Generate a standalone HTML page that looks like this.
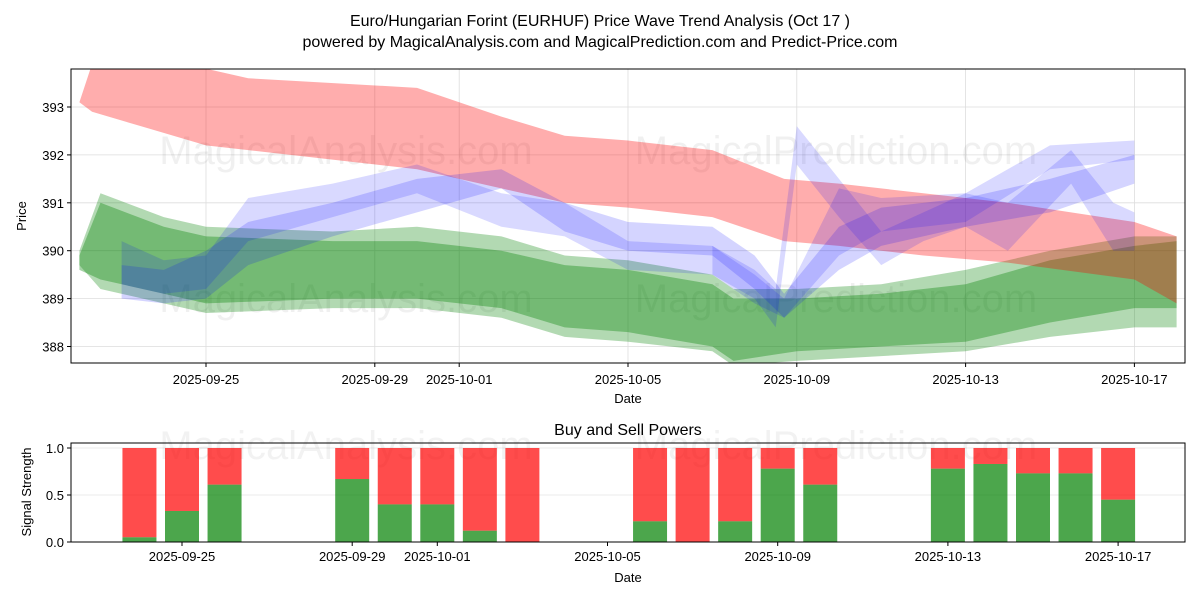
<!DOCTYPE html>
<html><head><meta charset="utf-8"><style>
body{margin:0;background:#fff;}
svg text{font-family:"Liberation Sans","DejaVu Sans",sans-serif;}
</style></head><body>
<svg id="chart" width="1200" height="600" xmlns="http://www.w3.org/2000/svg">
<rect x="0" y="0" width="1200" height="600" fill="#fff"/>
<text x="600" y="26" text-anchor="middle" font-size="16">Euro/Hungarian Forint (EURHUF) Price Wave Trend Analysis (Oct 17 )</text>
<text x="600" y="47" text-anchor="middle" font-size="16">powered by MagicalAnalysis.com and MagicalPrediction.com and Predict-Price.com</text>
<g id="topPanel"></g>
<g id="botPanel"></g>
</svg>
<script>
// ---- data ----
const tickDates = ["2025-09-25","2025-09-29","2025-10-01","2025-10-05","2025-10-09","2025-10-13","2025-10-17"];
const tickDays = [0,4,6,10,14,18,22];
const priceTicks = [388,389,390,391,392,393];
const redDays = [-3,-2.7,0,1,5,6,7,8.5,10,12,13.7,15,17,19,22,23];
const redUpper = [393.1,393.9,393.8,393.6,393.4,393.1,392.8,392.4,392.3,392.1,391.5,391.4,391.2,391.0,390.6,390.3];
const redLower = [393.1,392.9,392.2,392.1,391.7,391.5,391.3,391.0,390.9,390.7,390.2,390.1,389.9,389.75,389.4,388.9];
const greenDays = [-3,-2.5,-1,0,3,5,7,8.5,10,12,12.5,14,16,18,20,22,23];
const greenUpperA = [389.9,391.0,390.5,390.3,390.2,390.2,390.0,389.7,389.6,389.3,389.0,389.0,389.1,389.3,389.8,390.1,390.2];
const greenLowerA = [389.6,389.4,389.1,388.9,389.0,389.0,388.8,388.4,388.3,388.0,387.7,387.9,388.0,388.1,388.5,388.8,388.8];
const greenUpperB = [390.0,391.2,390.7,390.5,390.4,390.5,390.3,389.9,389.8,389.5,389.2,389.2,389.3,389.6,390.0,390.3,390.3];
const greenLowerB = [389.7,389.2,388.9,388.7,388.8,388.8,388.6,388.2,388.1,387.9,387.6,387.7,387.8,387.9,388.2,388.4,388.4];
const blueDays = [-2,-1,0,1,3,5,7,8.5,10,12,13,13.7,15,16,18,20,22];
const blueUpper1 = [389.7,389.6,390.0,390.6,391.0,391.5,391.7,391.0,390.6,390.5,389.9,389.1,390.5,390.9,391.1,391.5,392.0];
const blueLower1 = [389.0,388.9,389.0,389.7,390.3,390.8,391.3,390.4,390.0,389.9,389.2,388.6,389.6,390.1,390.5,390.8,391.4];
const blueUpper2 = [390.2,389.8,389.9,391.1,391.4,391.8,391.2,391.0,390.2,390.1,389.5,389.0,391.3,391.1,391.2,392.2,392.3];
const blueLower2 = [389.3,389.1,389.2,390.2,390.7,391.2,390.5,390.3,389.6,389.5,388.9,388.6,389.9,390.4,390.6,391.7,391.9];
const spikeDays = [12,13,13.5,14,15,16,17,18,19,20.5,21.5,22];
const spikeUpper = [390.1,389.6,389.2,392.6,391.5,390.4,390.8,391.2,391.0,392.1,391.0,390.8];
const spikeLower = [389.5,389.0,388.4,391.8,390.7,389.7,390.2,390.5,390.0,391.4,390.0,390.0];
const barDays = [-1,0,1,4,5,6,7,8,11,12,13,14,15,18,19,20,21,22];
const buyPower = [0.05,0.33,0.61,0.67,0.40,0.40,0.12,0.0,0.22,0.0,0.22,0.78,0.61,0.78,0.83,0.73,0.73,0.45];
const signalTicks = [0,0.5,1.0];

// ---- scales ----
const L=71,R=1185,T1=69,B1=363,T2=443,B2=542;
const x=d=>206+d*42.2, y=v=>107+(393-v)*47.9;
const xb=d=>182+d*42.55, yb=f=>542-f*94;
const NS="http://www.w3.org/2000/svg";
function mk(tag,attrs,parent,txt){const e=document.createElementNS(NS,tag);for(const k in attrs)e.setAttribute(k,attrs[k]);if(txt!==undefined)e.textContent=txt;parent.appendChild(e);return e;}
const topG=document.getElementById('topPanel'), botG=document.getElementById('botPanel');
const defs=mk('defs',{},document.getElementById('chart'));
const cp=mk('clipPath',{id:'c1'},defs); mk('rect',{x:L,y:T1,width:R-L,height:B1-T1},cp);

tickDays.forEach(d=>{const g=mk('line',{x1:x(d),x2:x(d),y1:T1,y2:B1,stroke:'#ddd','stroke-width':0.8},topG);

});
priceTicks.forEach(v=>{const g=mk('line',{x1:L,x2:R,y1:y(v),y2:y(v),stroke:'#ddd','stroke-width':0.8},topG);

});
[[346,150],[836,150],[346,298],[836,298]].forEach((p,i)=>{const t=mk('text',{x:p[0],y:p[1]+14,'text-anchor':'middle','font-size':40,fill:'rgba(0,0,0,0.06)'},topG,i%2?'MagicalPrediction.com':'MagicalAnalysis.com');

});
const bands=mk('g',{'clip-path':'url(#c1)'},topG);
function band(days,up,lo,fill,name){const pts=days.map((d,i)=>x(d)+','+y(up[i])).concat(days.map((d,i)=>x(d)+','+y(lo[i])).reverse());
const p=mk('polygon',{points:pts.join(' '),fill:fill},bands);

}
band(greenDays,greenUpperB,greenLowerB,'rgba(0,128,0,0.3)','green-band-outer');
band(greenDays,greenUpperA,greenLowerA,'rgba(0,128,0,0.35)','green-band-inner');
band(redDays,redUpper,redLower,'rgba(255,0,0,0.32)','red-band');
band(blueDays,blueUpper1,blueLower1,'rgba(0,0,255,0.17)','blue-band-1');
band(blueDays,blueUpper2,blueLower2,'rgba(0,0,255,0.15)','blue-band-2');
band(spikeDays,spikeUpper,spikeLower,'rgba(0,0,255,0.15)','blue-band-spike');
const ax=mk('rect',{x:L,y:T1,width:R-L,height:B1-T1,fill:'none',stroke:'#000','stroke-width':1},topG);


tickDays.forEach((d,i)=>{mk('line',{x1:x(d),x2:x(d),y1:B1,y2:B1+4,stroke:'#000'},topG);
const t=mk('text',{x:x(d),y:B1+21,'text-anchor':'middle','font-size':13},topG,tickDates[i]);

});
priceTicks.forEach(v=>{mk('line',{x1:L-4,x2:L,y1:y(v),y2:y(v),stroke:'#000'},topG);
const t=mk('text',{x:L-7,y:y(v)+5,'text-anchor':'end','font-size':13},topG,String(v));

});
let tt=mk('text',{x:628,y:403,'text-anchor':'middle','font-size':13},topG,'Date');


tt=mk('text',{x:26,y:216,'text-anchor':'middle','font-size':13,transform:'rotate(-90 26 216)'},topG,'Price');



tt=mk('text',{x:628,y:435,'text-anchor':'middle','font-size':16},botG,'Buy and Sell Powers');


signalTicks.forEach(v=>{const g=mk('line',{x1:L,x2:R,y1:yb(v),y2:yb(v),stroke:'#e4e4e4','stroke-width':0.8},botG);

});
[[346,445],[836,445]].forEach((p,i)=>{const w=mk('text',{x:p[0],y:p[1]+14,'text-anchor':'middle','font-size':40,fill:'rgba(0,0,0,0.05)'},botG,i?'MagicalPrediction.com':'MagicalAnalysis.com');

});
barDays.forEach((d,i)=>{const cx=xb(d),w=34,f=buyPower[i];
const r=mk('rect',{x:cx-w/2,y:yb(1),width:w,height:yb(f)-yb(1),fill:'rgba(255,0,0,0.7)'},botG);


const g=mk('rect',{x:cx-w/2,y:yb(f),width:w,height:yb(0)-yb(f),fill:'rgba(0,128,0,0.7)'},botG);

});
const ax2=mk('rect',{x:L,y:T2,width:R-L,height:B2-T2,fill:'none',stroke:'#000','stroke-width':1},botG);


tickDays.forEach((d,i)=>{mk('line',{x1:xb(d),x2:xb(d),y1:B2,y2:B2+4,stroke:'#000'},botG);
const s=mk('text',{x:xb(d),y:B2+19,'text-anchor':'middle','font-size':13},botG,tickDates[i]);

});
signalTicks.forEach(v=>{mk('line',{x1:L-4,x2:L,y1:yb(v),y2:yb(v),stroke:'#000'},botG);
const s=mk('text',{x:L-7,y:yb(v)+5,'text-anchor':'end','font-size':13},botG,v.toFixed(1));

});
tt=mk('text',{x:628,y:582,'text-anchor':'middle','font-size':13},botG,'Date');


tt=mk('text',{x:31,y:492,'text-anchor':'middle','font-size':13,transform:'rotate(-90 31 492)'},botG,'Signal Strength');


</script>
</body></html>
